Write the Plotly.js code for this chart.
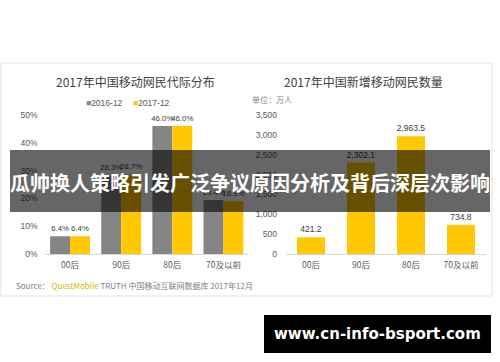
<!DOCTYPE html>
<html><head><meta charset="utf-8">
<script src="https://cdn.plot.ly/plotly-3.0.1.min.js"></script>
<style>html,body{margin:0;padding:0;background:#fff}#chart{width:500px;height:362px}</style>
</head><body><div id="chart"></div>
<script>
const categories = ['00后', '90后', '80后', '70及以前'];
const share2016 = [6.4, 28.3, 46.0, 19.4];
const share2017 = [6.4, 28.7, 46.0, 18.9];
const newUsers = [421.2, 2302.1, 2963.5, 734.8];
const leftTicks = [0, 10, 20, 30, 40, 50];
const rightTicks = [0, 500, 1000, 1500, 2000, 2500, 3000, 3500];

const GRAY = '#858585', YELLOW = '#FFC800';
const FONT = '"Noto Sans CJK SC", "Noto Sans", sans-serif';
const NUMFONT = '"Liberation Sans", "Noto Sans CJK SC", sans-serif';
const H = 362, W = 500;
const py = v => 1 - v / H, px = v => v / W;

const labelFont = {family: NUMFONT, size: 7.8, color: '#404040'};
const traces = [
  {type: 'bar', x: categories, y: share2016, name: '2016-12', marker: {color: GRAY},
   text: share2016.map(v => v.toFixed(1) + '%'), textposition: 'outside', textfont: labelFont,
   constraintext: 'none', cliponaxis: false, xaxis: 'x', yaxis: 'y'},
  {type: 'bar', x: categories, y: share2017, name: '2017-12', marker: {color: YELLOW},
   text: share2017.map(v => v.toFixed(1) + '%'), textposition: 'outside', textfont: labelFont,
   constraintext: 'none', cliponaxis: false, xaxis: 'x', yaxis: 'y'},
  {type: 'bar', x: categories, y: newUsers, name: '新增', marker: {color: YELLOW}, width: 0.56,
   text: newUsers.map(v => v.toLocaleString('en-US', {minimumFractionDigits: 1, maximumFractionDigits: 1})),
   textposition: 'outside', textfont: {family: NUMFONT, size: 8.5, color: '#404040'},
   constraintext: 'none', cliponaxis: false, xaxis: 'x2', yaxis: 'y2'}
];

const yDom = [py(254), py(115)];
const tickFont = {family: NUMFONT, size: 8.5, color: '#595959'};
const xTickFont = {family: FONT, size: 8.5, color: '#595959'};
function ann(x, y, text, font, xanchor) {
  return {xref: 'paper', yref: 'paper', x: px(x), y: py(y), text: text, showarrow: false,
    xanchor: xanchor || 'center', yanchor: 'middle', font: font};
}
const layout = {
  width: W, height: H, margin: {l: 0, r: 0, t: 0, b: 0},
  paper_bgcolor: '#fff', plot_bgcolor: 'rgba(0,0,0,0)',
  showlegend: false, barmode: 'group', bargap: 0.22, bargroupgap: 0,
  font: {family: FONT},
  xaxis: {domain: [px(44.5), px(249)], type: 'category', showgrid: false, zeroline: false,
    showline: true, linecolor: '#d9d9d9', linewidth: 1, ticks: '', tickfont: xTickFont, ticklabelstandoff: 3},
  yaxis: {domain: yDom, range: [0, 50], tickvals: leftTicks, ticktext: leftTicks.map(v => v + '%'),
    showgrid: false, zeroline: false, showline: false, tickfont: tickFont, ticklabelstandoff: 6},
  xaxis2: {domain: [px(286), px(486)], type: 'category', showgrid: false, zeroline: false, anchor: 'y2',
    showline: true, linecolor: '#d9d9d9', linewidth: 1, ticks: '', tickfont: xTickFont, ticklabelstandoff: 3},
  yaxis2: {domain: yDom, range: [0, 3500], tickvals: rightTicks, tickformat: ',', anchor: 'x2',
    showgrid: false, zeroline: false, showline: false, tickfont: tickFont, ticklabelstandoff: 8},
  shapes: [
    {type: 'rect', xref: 'paper', yref: 'paper', x0: px(1), x1: px(492), y0: py(296), y1: py(63),
     line: {color: '#e3e3e3', width: 1}, layer: 'below'},
    {type: 'rect', xref: 'paper', yref: 'paper', x0: px(10), x1: px(490), y0: py(212), y1: py(150),
     fillcolor: 'rgba(0,0,0,0.6)', line: {width: 0}, layer: 'above'},
    {type: 'rect', xref: 'paper', yref: 'paper', x0: px(264), x1: px(491), y0: py(353), y1: py(315),
     fillcolor: '#000', line: {width: 0}, layer: 'above'}
  ],
  annotations: [
    ann(135, 81, '2017年中国移动网民代际分布', {family: FONT, size: 12, color: '#404040'}),
    ann(363, 81, '2017年中国新增移动网民数量', {family: FONT, size: 12, color: '#404040'}),
    ann(84, 103, '<span style="color:' + GRAY + '">■</span>2016-12', {family: NUMFONT, size: 8.5, color: '#595959'}, 'left'),
    ann(131, 103, '<span style="color:' + YELLOW + '">■</span>2017-12', {family: NUMFONT, size: 8.5, color: '#595959'}, 'left'),
    ann(250, 99, '单位：万人', {family: FONT, size: 8, color: '#7f7f7f'}, 'left'),
    ann(14, 285, 'Source： <span style="color:#d8b400">QuestMobile</span> TRUTH 中国移动互联网数据库 2017年12月',
      {family: FONT, size: 8, color: '#7f7f7f'}, 'left'),
    ann(250, 182, '<b>瓜帅换人策略引发广泛争议原因分析及背后深层次影响</b>', {family: FONT, size: 20, color: '#ffffff'}),
    ann(377, 334, '<b>www.cn-info-bsport.com</b>', {family: '"DejaVu Sans", sans-serif', size: 15, color: '#ffffff'})
  ]
};
Plotly.newPlot('chart', traces, layout, {displayModeBar: false, staticPlot: true});
</script></body></html>
